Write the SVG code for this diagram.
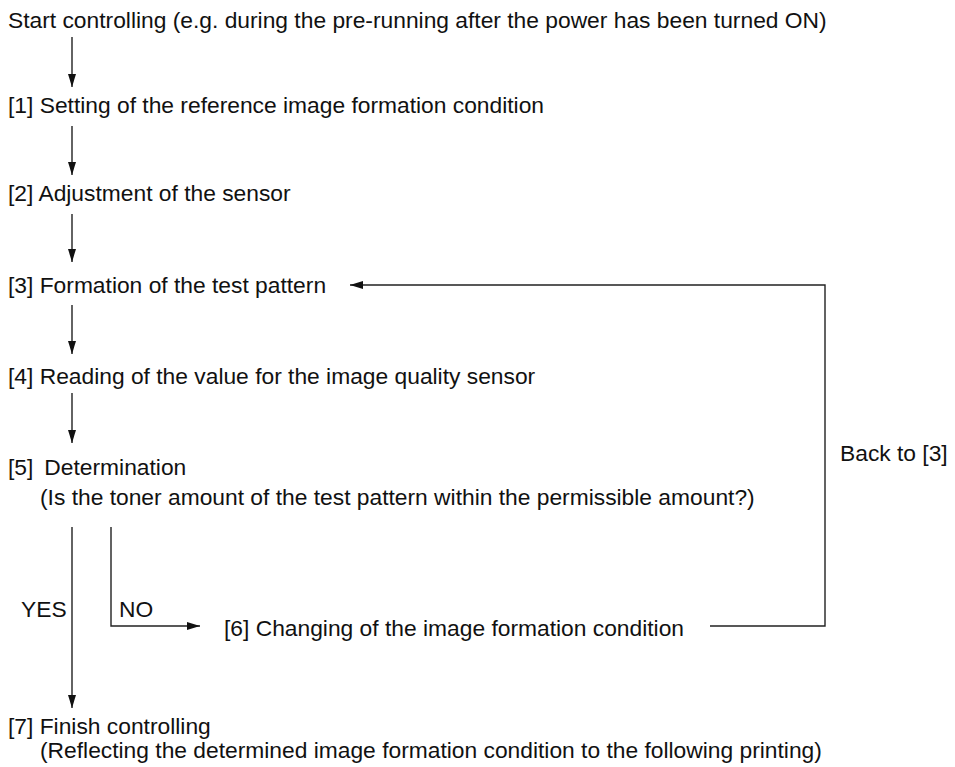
<svg xmlns="http://www.w3.org/2000/svg" width="955" height="767" viewBox="0 0 955 767">
  <style>
    text { font-family: "Liberation Sans", Arial, sans-serif; font-size: 22.8px; fill: #111; }
    .ln { stroke: #222; stroke-width: 1.4; fill: none; }
  </style>
  <defs>
    <marker id="ah" markerUnits="userSpaceOnUse" markerWidth="13" markerHeight="8" refX="13" refY="4" orient="auto">
      <path d="M0,0 L13,4 L0,8 z" fill="#111"/>
    </marker>
  </defs>
  <rect width="955" height="767" fill="#fff"/>

  <g id="start"><text x="8" y="28">Start controlling (e.g. during the pre-running after the power has been turned ON)</text></g>
  <g id="step1"><text x="8" y="113">[1] Setting of the reference image formation condition</text></g>
  <g id="step2"><text x="8" y="201">[2] Adjustment of the sensor</text></g>
  <g id="step3"><text x="8" y="293">[3] Formation of the test pattern</text></g>
  <g id="step4"><text x="8" y="384">[4] Reading of the value for the image quality sensor</text></g>
  <g id="step5">
    <text x="8" y="475">[5]<tspan dx="11">Determination</tspan></text>
    <text x="40" y="505">(Is the toner amount of the test pattern within the permissible amount?)</text>
  </g>
  <g id="step6"><text x="224" y="636">[6] Changing of the image formation condition</text></g>
  <g id="step7">
    <text x="8" y="734">[7] Finish controlling</text>
    <text x="40" y="758">(Reflecting the determined image formation condition to the following printing)</text>
  </g>

  <g id="connectors">
    <line class="ln" x1="72" y1="37" x2="72" y2="87" marker-end="url(#ah)"/>
    <line class="ln" x1="72" y1="126" x2="72" y2="175" marker-end="url(#ah)"/>
    <line class="ln" x1="72" y1="214" x2="72" y2="262" marker-end="url(#ah)"/>
    <line class="ln" x1="72" y1="305" x2="72" y2="354" marker-end="url(#ah)"/>
    <line class="ln" x1="72" y1="393" x2="72" y2="443" marker-end="url(#ah)"/>
    <line class="ln" x1="72" y1="527" x2="72" y2="708" marker-end="url(#ah)"/>
    <polyline class="ln" points="111,527 111,626 200,626" marker-end="url(#ah)"/>
    <polyline class="ln" points="710,626 825,626 825,285 350,285" marker-end="url(#ah)"/>
    <text x="21" y="617">YES</text>
    <text x="119" y="617">NO</text>
    <text x="840" y="461">Back to [3]</text>
  </g>
</svg>
